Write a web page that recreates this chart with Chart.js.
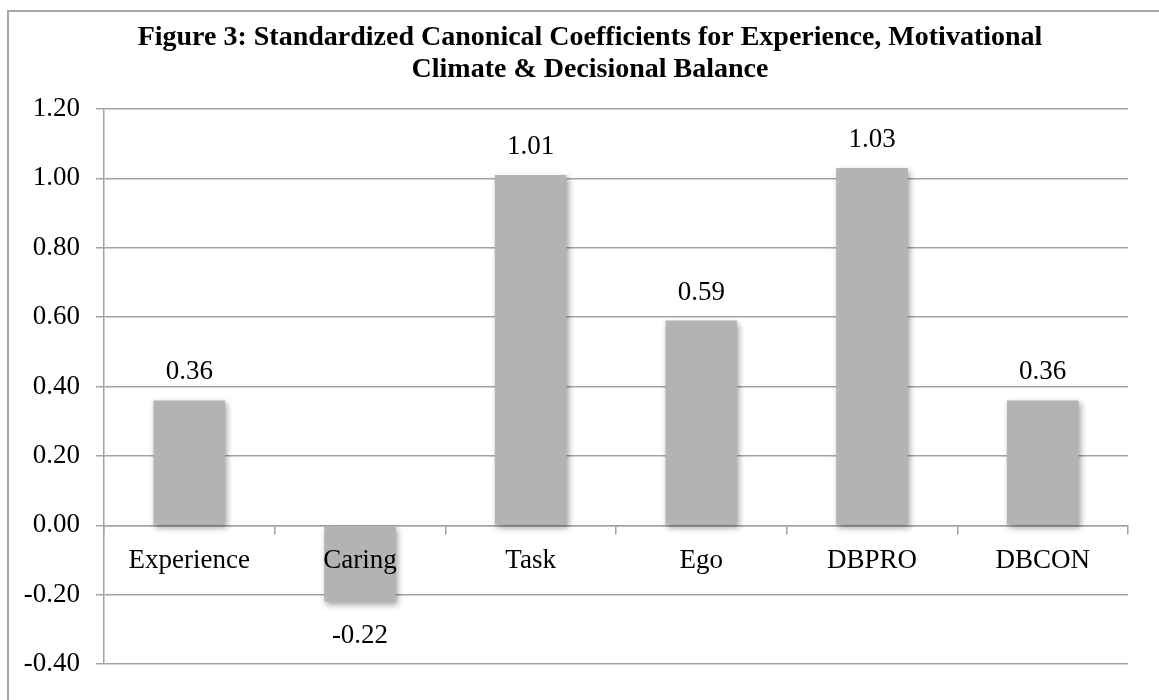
<!DOCTYPE html>
<html>
<head>
<meta charset="utf-8">
<script src="https://cdn.jsdelivr.net/npm/chart.js@4.4.1/dist/chart.umd.min.js"></script>
<style>
  html, body { margin: 0; padding: 0; background: #ffffff; overflow: hidden; }
  #wrap { position: relative; width: 1159px; height: 700px; overflow: hidden; }
  #frame { position: absolute; left: 7px; top: 10px; width: 1200px; height: 760px;
           border: 2px solid #a6a6a6; box-sizing: border-box; }
  canvas { position: absolute; left: 0; top: 0; }
</style>
</head>
<body>
<div id="wrap">
  <div id="frame"></div>
  <canvas id="chart" width="1159" height="700"></canvas>
</div>
<script>
// Standardized canonical coefficients per predictor
const categories = ['Experience', 'Caring', 'Task', 'Ego', 'DBPRO', 'DBCON'];
const coefficients = [0.36, -0.22, 1.01, 0.59, 1.03, 0.36];
const yTicks = [-0.40, -0.20, 0.00, 0.20, 0.40, 0.60, 0.80, 1.00, 1.20];
const titleLines = ['Figure 3: Standardized Canonical Coefficients for Experience, Motivational',
                    'Climate & Decisional Balance'];

const SERIF = '"Liberation Serif", "Times New Roman", serif';
const GRID = '#a3a3a3';

// two-line bold heading, centred on the framed panel
const heading = {
  id: 'heading',
  afterDraw(chart) {
    const ctx = chart.ctx;
    ctx.save();
    ctx.font = 'bold 28px ' + SERIF;
    ctx.fillStyle = '#000000';
    ctx.textAlign = 'center';
    ctx.textBaseline = 'middle';
    titleLines.forEach((line, i) => ctx.fillText(line, 590, 38 + i * 32));
    ctx.restore();
  }
};

// soft drop shadow under the bars
const barShadow = {
  id: 'barShadow',
  beforeDatasetsDraw(chart) {
    const ctx = chart.ctx;
    ctx.save();
    ctx.shadowColor = 'rgba(0,0,0,0.35)';
    ctx.shadowBlur = 6;
    ctx.shadowOffsetX = 2;
    ctx.shadowOffsetY = 3;
  },
  afterDatasetsDraw(chart) {
    chart.ctx.restore();
  }
};

// value labels above positive bars and below negative ones
const valueLabels = {
  id: 'valueLabels',
  afterDatasetsDraw(chart) {
    const ctx = chart.ctx;
    const meta = chart.getDatasetMeta(0);
    ctx.save();
    ctx.font = '27px ' + SERIF;
    ctx.fillStyle = '#000000';
    ctx.textAlign = 'center';
    ctx.textBaseline = 'middle';
    meta.data.forEach((bar, i) => {
      const v = coefficients[i];
      const y = v >= 0 ? bar.y - 28 : bar.y + 34;
      ctx.fillText(v.toFixed(2), bar.x, y);
    });
    ctx.restore();
  }
};

new Chart(document.getElementById('chart'), {
  type: 'bar',
  data: {
    labels: categories,
    datasets: [{
      data: coefficients,
      backgroundColor: '#b3b3b3',
      borderWidth: 0,
      categoryPercentage: 1.0,
      barPercentage: 0.42
    }]
  },
  options: {
    responsive: false,
    animation: false,
    events: [],
    layout: { padding: { left: 0, right: 31, top: 109, bottom: 36 } },
    plugins: {
      legend: { display: false },
      tooltip: { enabled: false },
      title: { display: false }
    },
    scales: {
      x: {
        position: { y: 0 },
        offset: true,
        grid: {
          offset: true,
          drawOnChartArea: false,
          drawTicks: true,
          tickLength: 8,
          color: GRID,
          lineWidth: 1.5
        },
        border: { display: true, color: GRID, width: 1.5 },
        ticks: {
          z: 1,
          color: '#000000',
          font: { family: SERIF, size: 27 },
          padding: 11,
          maxRotation: 0,
          autoSkip: false
        }
      },
      y: {
        min: -0.4,
        max: 1.2,
        afterBuildTicks(scale) {
          scale.ticks = yTicks.map(v => ({ value: v }));
        },
        afterFit(scale) { scale.width = 104; },
        grid: {
          color: GRID,
          lineWidth: 1.5,
          tickLength: 8,
          drawTicks: true
        },
        border: { display: true, color: GRID, width: 1.5 },
        ticks: {
          color: '#000000',
          font: { family: SERIF, size: 27 },
          padding: 16,
          callback: v => v.toFixed(2)
        }
      }
    }
  },
  plugins: [barShadow, valueLabels, heading]
});
</script>
</body>
</html>
